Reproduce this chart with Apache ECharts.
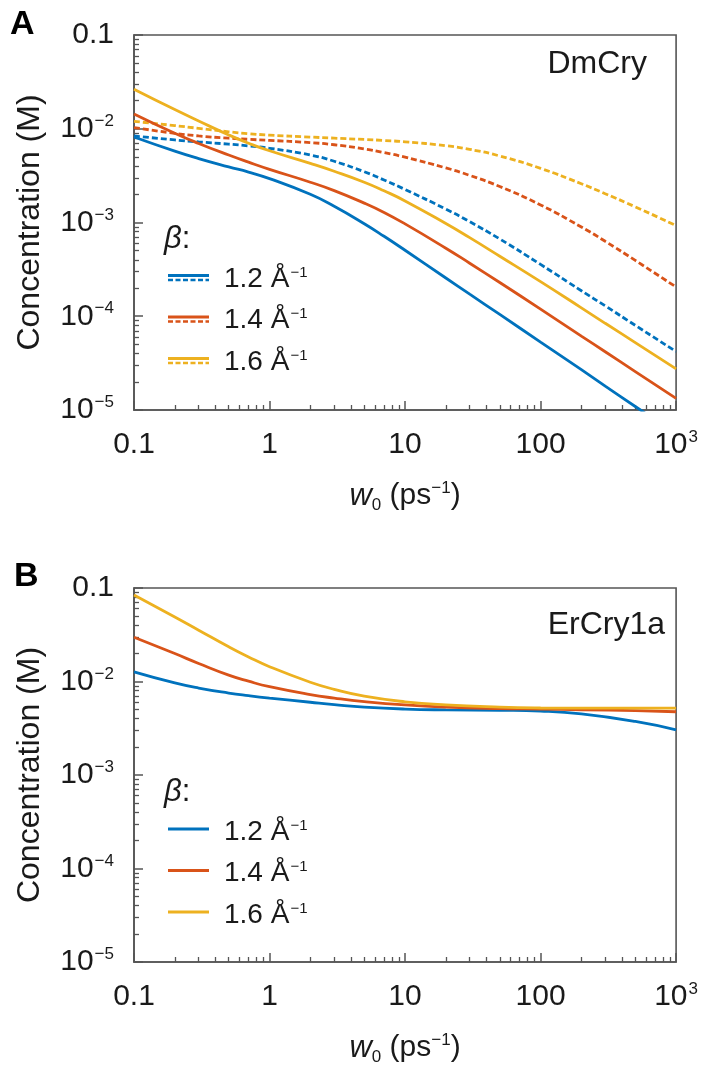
<!DOCTYPE html>
<html><head><meta charset="utf-8">
<script src="https://cdn.jsdelivr.net/npm/echarts@6/dist/echarts.min.js"></script>
<style>html,body{margin:0;padding:0;background:#fff}#c{width:701px;height:1074px}</style>
</head><body><div id="c"></div>
<script>
const FONT = '"Liberation Sans", Arial, Helvetica, sans-serif';
const TXT = '#1a1a1a';
const AX = '#555555';
const COLORS = ['#0072BD', '#D95319', '#EDB120'];
const BETA_LABELS = ['1.2', '1.4', '1.6'];
const PANEL_NAMES = ['DmCry', 'ErCry1a'];

// Panel A (DmCry): w0 (ps^-1) and concentration (M); solid and dashed curves
const W_A = [0.1, 0.2, 0.3, 0.5, 0.7, 1, 2, 3, 5, 7, 10, 20, 30, 50, 100, 200, 300, 500, 1000];
const A_SOLID_12 = [8.17e-3, 5.77e-3, 4.81e-3, 3.92e-3, 3.45e-3, 2.94e-3, 2.00e-3, 1.49e-3, 9.70e-4, 7.13e-4, 5.06e-4, 2.56e-4, 1.72e-4, 1.045e-4, 5.30e-5, 2.69e-5, 1.80e-5, 1.09e-5, 5.55e-6];
const A_SOLID_14 = [1.44e-2, 8.95e-3, 6.97e-3, 5.24e-3, 4.40e-3, 3.69e-3, 2.69e-3, 2.19e-3, 1.61e-3, 1.28e-3, 9.66e-4, 5.32e-4, 3.68e-4, 2.29e-4, 1.19e-4, 6.14e-5, 4.18e-5, 2.57e-5, 1.33e-5];
const A_SOLID_16 = [2.64e-2, 1.60e-2, 1.21e-2, 8.59e-3, 7.01e-3, 5.82e-3, 4.27e-3, 3.52e-3, 2.69e-3, 2.18e-3, 1.70e-3, 9.75e-4, 6.89e-4, 4.37e-4, 2.34e-4, 1.23e-4, 8.41e-5, 5.24e-5, 2.75e-5];
const A_DASH_12 = [8.38e-3, 7.60e-3, 7.24e-3, 6.85e-3, 6.56e-3, 6.19e-3, 5.25e-3, 4.50e-3, 3.48e-3, 2.84e-3, 2.25e-3, 1.39e-3, 1.02e-3, 6.67e-4, 3.57e-4, 1.87e-4, 1.29e-4, 8.00e-5, 4.20e-5];
const A_DASH_14 = [1.03e-2, 8.93e-3, 8.38e-3, 7.93e-3, 7.71e-3, 7.52e-3, 7.11e-3, 6.75e-3, 6.10e-3, 5.57e-3, 4.97e-3, 3.82e-3, 3.18e-3, 2.42e-3, 1.54e-3, 8.95e-4, 6.30e-4, 3.94e-4, 2.05e-4];
const A_DASH_16 = [1.20e-2, 1.08e-2, 1.01e-2, 9.27e-3, 8.87e-3, 8.55e-3, 8.15e-3, 7.94e-3, 7.69e-3, 7.50e-3, 7.26e-3, 6.59e-3, 6.03e-3, 5.12e-3, 3.78e-3, 2.59e-3, 2.03e-3, 1.47e-3, 9.27e-4];

// Panel B (ErCry1a)
const W_B = [0.1, 0.2, 0.3, 0.5, 0.7, 1, 2, 3, 5, 10, 20, 50, 100, 200, 500, 1000];
const B_12 = [1.27e-2, 9.66e-3, 8.51e-3, 7.53e-3, 7.06e-3, 6.65e-3, 6.00e-3, 5.66e-3, 5.32e-3, 5.07e-3, 4.97e-3, 4.92e-3, 4.82e-3, 4.50e-3, 3.74e-3, 3.04e-3];
const B_14 = [2.97e-2, 1.99e-2, 1.56e-2, 1.17e-2, 1.007e-2, 8.79e-3, 7.24e-3, 6.65e-3, 6.10e-3, 5.61e-3, 5.32e-3, 5.13e-3, 5.06e-3, 4.99e-3, 4.88e-3, 4.75e-3];
const B_16 = [8.41e-2, 4.90e-2, 3.54e-2, 2.35e-2, 1.83e-2, 1.44e-2, 9.82e-3, 8.24e-3, 6.97e-3, 6.07e-3, 5.62e-3, 5.32e-3, 5.21e-3, 5.18e-3, 5.18e-3, 5.18e-3];

// Ticks
const X_TICKS = [0.1, 1, 10, 100, 1000];
const X_TICK_LABELS = [['0.1', ''], ['1', ''], ['10', ''], ['100', ''], ['10', '3']];
const Y_TICKS = [1e-5, 1e-4, 1e-3, 1e-2, 0.1];
const Y_TICK_LABELS = [['10', '−5'], ['10', '−4'], ['10', '−3'], ['10', '−2'], ['0.1', '']];

function minors(decades) {
  const out = [];
  decades.forEach(d => { for (let k = 2; k <= 9; k++) out.push(+(d * k).toPrecision(6)); });
  return out;
}
const X_MINOR = minors([0.1, 1, 10, 100]);
const Y_MINOR = minors([1e-5, 1e-4, 1e-3, 1e-2]);

function fmt(ticks, labels) {
  return v => {
    const i = ticks.findIndex(t => Math.abs(Math.log10(t) - Math.log10(v)) < 1e-6);
    if (i < 0) return '';
    const [b, s] = labels[i];
    return s ? `{b|${b}}{s|${s}}` : `{b|${b}}`;
  };
}
const TICK_RICH = {
  b: { fontFamily: FONT, fontSize: 30, color: TXT, lineHeight: 34 },
  s: { fontFamily: FONT, fontSize: 17, color: TXT, lineHeight: 20, verticalAlign: 'top', padding: [1, 0, 0, 1] }
};

const GRIDS = [
  { left: 134, top: 35, width: 547, height: 375 },
  { left: 134, top: 588, width: 547, height: 374 }
];

const xAxis = [], yAxis = [];
GRIDS.forEach((g, gi) => {
  xAxis.push({
    type: 'log', logBase: 10, gridIndex: gi, min: 0.1, max: 1000, position: 'bottom',
    axisLine: { show: true, onZero: false, lineStyle: { color: AX, width: 1.6 } },
    axisTick: { show: true, inside: true, length: 9, customValues: X_TICKS, lineStyle: { color: AX, width: 1.5 } },
    axisLabel: { show: true, customValues: X_TICKS, margin: 18, formatter: fmt(X_TICKS, X_TICK_LABELS), rich: TICK_RICH, hideOverlap: false },
    splitLine: { show: false }, minorTick: { show: false },
    name: '{i|w}{sub|0} (ps{sup|−1})', nameLocation: 'middle', nameGap: 68,
    nameTextStyle: {
      fontFamily: FONT, fontSize: 30, color: TXT, verticalAlign: 'top',
      rich: {
        i: { fontFamily: FONT, fontSize: 31, fontStyle: 'italic', color: TXT, lineHeight: 36 },
        sub: { fontFamily: FONT, fontSize: 17, color: TXT, verticalAlign: 'bottom', lineHeight: 36 },
        sup: { fontFamily: FONT, fontSize: 17, color: TXT, verticalAlign: 'top', lineHeight: 20, padding: [2, 0, 0, 0] }
      }
    }
  });
  xAxis.push({
    type: 'log', logBase: 10, gridIndex: gi, min: 0.1, max: 1000, position: 'bottom',
    axisLine: { show: false }, axisLabel: { show: false }, splitLine: { show: false },
    axisTick: { show: true, inside: true, length: 5, customValues: X_MINOR, lineStyle: { color: AX, width: 1.3 } }
  });
  yAxis.push({
    type: 'log', logBase: 10, gridIndex: gi, min: 1e-5, max: 0.1, position: 'left',
    axisLine: { show: true, onZero: false, lineStyle: { color: AX, width: 1.6 } },
    axisTick: { show: true, inside: true, length: 9, customValues: Y_TICKS, lineStyle: { color: AX, width: 1.5 } },
    axisLabel: { show: true, customValues: Y_TICKS, margin: 20, formatter: fmt(Y_TICKS, Y_TICK_LABELS), rich: TICK_RICH, hideOverlap: false },
    splitLine: { show: false }, minorTick: { show: false },
    name: 'Concentration (M)', nameLocation: 'middle', nameRotate: 90, nameGap: 88,
    nameTextStyle: { fontFamily: FONT, fontSize: 32, color: TXT }
  });
  yAxis.push({
    type: 'log', logBase: 10, gridIndex: gi, min: 1e-5, max: 0.1, position: 'left',
    axisLine: { show: false }, axisLabel: { show: false }, splitLine: { show: false },
    axisTick: { show: true, inside: true, length: 5, customValues: Y_MINOR, lineStyle: { color: AX, width: 1.3 } }
  });
});

function pairs(xs, ys) { return xs.map((x, i) => [x, ys[i]]); }
function line(name, xs, ys, color, dashed, gi) {
  return {
    name, type: 'line', xAxisIndex: gi * 2, yAxisIndex: gi * 2,
    data: pairs(xs, ys), showSymbol: false, symbol: 'none', smooth: 0.5,
    clip: true, silent: true, animation: false,
    lineStyle: { color, width: 2.8, type: dashed ? [6, 3] : 'solid' }, z: dashed ? 3 : 4
  };
}
const series = [
  line('A 1.2 dashed', W_A, A_DASH_12, COLORS[0], true, 0),
  line('A 1.4 dashed', W_A, A_DASH_14, COLORS[1], true, 0),
  line('A 1.6 dashed', W_A, A_DASH_16, COLORS[2], true, 0),
  line('A 1.2', W_A, A_SOLID_12, COLORS[0], false, 0),
  line('A 1.4', W_A, A_SOLID_14, COLORS[1], false, 0),
  line('A 1.6', W_A, A_SOLID_16, COLORS[2], false, 0),
  line('B 1.2', W_B, B_12, COLORS[0], false, 1),
  line('B 1.4', W_B, B_14, COLORS[1], false, 1),
  line('B 1.6', W_B, B_16, COLORS[2], false, 1)
];

// Legends and annotations (layout only)
const graphic = [];
function legend(dy, withDash) {
  graphic.push({ type: 'text', left: 164, top: 224 + dy, style: {
    text: '{i|β}:', fill: TXT, font: '31px ' + FONT,
    rich: { i: { fontFamily: FONT, fontSize: 31, fontStyle: 'italic', fill: TXT } } } });
  BETA_LABELS.forEach((lab, i) => {
    const yc = 278 + dy + i * 41.5;
    if (withDash) {
      graphic.push({ type: 'line', shape: { x1: 168, y1: yc - 2.5, x2: 209, y2: yc - 2.5 }, style: { stroke: COLORS[i], lineWidth: 2.8 } });
      graphic.push({ type: 'line', shape: { x1: 168, y1: yc + 2, x2: 209, y2: yc + 2 }, style: { stroke: COLORS[i], lineWidth: 2.4, lineDash: [5, 2.5] } });
    } else {
      graphic.push({ type: 'line', shape: { x1: 168, y1: yc - 2, x2: 209, y2: yc - 2 }, style: { stroke: COLORS[i], lineWidth: 2.8 } });
    }
    graphic.push({ type: 'text', x: 224, y: yc + 1, style: {
      text: lab + ' Å{s|−1}', fill: TXT, font: '28px ' + FONT, textVerticalAlign: 'middle',
      rich: { s: { fontFamily: FONT, fontSize: 15, fill: TXT, verticalAlign: 'top', padding: [0, 0, 0, 1] } } } });
  });
}
legend(0, true);
legend(553, false);
graphic.push({ type: 'text', x: 10, y: 25, style: { text: 'A', fill: '#000', font: 'bold 34px ' + FONT, textVerticalAlign: 'middle' } });
graphic.push({ type: 'text', x: 14, y: 577, style: { text: 'B', fill: '#000', font: 'bold 34px ' + FONT, textVerticalAlign: 'middle' } });
graphic.push({ type: 'text', x: 647, y: 64, style: { text: PANEL_NAMES[0], fill: TXT, font: '32px ' + FONT, textAlign: 'right', textVerticalAlign: 'middle' } });
graphic.push({ type: 'text', x: 665, y: 625, style: { text: PANEL_NAMES[1], fill: TXT, font: '32px ' + FONT, textAlign: 'right', textVerticalAlign: 'middle' } });

const chart = echarts.init(document.getElementById('c'), null, { renderer: 'canvas' });
chart.setOption({
  animation: false,
  backgroundColor: '#fff',
  grid: GRIDS.map(g => Object.assign({ show: true, borderColor: AX, borderWidth: 1.6, backgroundColor: 'transparent', containLabel: false }, g)),
  xAxis, yAxis, series, graphic
});
</script></body></html>
